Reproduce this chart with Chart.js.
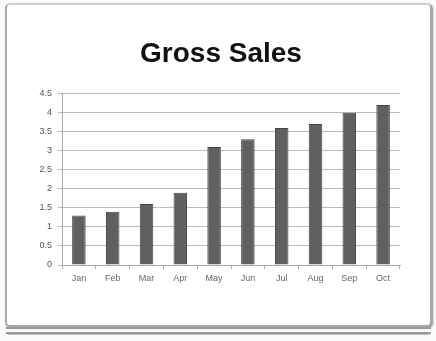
<!DOCTYPE html>
<html><head><meta charset="utf-8">
<script src="https://cdn.jsdelivr.net/npm/chart.js@4"></script>
<style>
html,body{margin:0;padding:0;background:#fff;}
#wrap{position:relative;width:436px;height:341px;overflow:hidden;background:#fafafa;}
#panel{position:absolute;left:5px;top:3px;width:423px;height:320px;background:#fff;border:2px solid #a8a8a8;border-top-color:#d0d0d0;border-radius:5px;box-shadow:1px 1px 2px #888;}
#base1{position:absolute;left:6px;top:327px;width:425px;height:3px;border-top:2px solid #999;border-bottom:2px solid #999;}
#base2{position:absolute;left:8px;top:334px;width:421px;height:0;border-top:1px solid #bbb;}
canvas{position:absolute;left:0;top:0;}
</style></head>
<body><div id="wrap"><div id="panel"></div><div id="base1"></div><div id="base2"></div>
<canvas id="c" width="436" height="341"></canvas></div>
<script>
const categories = ["Jan","Feb","Mar","Apr","May","Jun","Jul","Aug","Sep","Oct"];
const sales = [1.3,1.4,1.6,1.9,3.1,3.3,3.6,3.7,4.0,4.2];
const yTicks = [0,0.5,1,1.5,2,2.5,3,3.5,4,4.5];

const shiftTitle = { id: 'shiftTitle', afterLayout(chart) {
  const t = chart.titleBlock; if (t) { t.left += 11; t.right += 11; } } };

new Chart(document.getElementById('c'), {
  type: 'bar',
  data: { labels: categories, datasets: [{ label: 'Gross Sales', data: sales,
    backgroundColor: '#606060', borderColor: '#444444', borderWidth: 1,
    barPercentage: 0.4, categoryPercentage: 1.0 }] },
  plugins: [shiftTitle],
  options: {
    responsive: false, animation: false,
    layout: { padding: { left: 20, right: 36, top: 0, bottom: 46 } },
    plugins: {
      legend: { display: false }, tooltip: { enabled: false },
      title: { display: true, text: 'Gross Sales', color: '#111',
        font: { family: 'Liberation Sans, Arial, sans-serif', size: 28, weight: 'bold' },
        padding: { top: 37, bottom: 23 } }
    },
    scales: {
      x: { offset: true,
        grid: { offset: true, drawOnChartArea: false, drawTicks: true, tickLength: 4, color: '#aaa' },
        border: { color: '#aaa' },
        ticks: { color: '#666', font: { family: 'Liberation Sans, Arial, sans-serif', size: 9 }, padding: 4 },
        afterFit: s => { s.height = 30; } },
      y: { min: 0, max: 4.5,
        afterBuildTicks: s => { s.ticks = yTicks.map(v => ({ value: v })); },
        grid: { color: '#bbbbbb', tickLength: 4, lineWidth: 1 },
        border: { color: '#aaa' },
        ticks: { color: '#555', font: { family: 'Liberation Sans, Arial, sans-serif', size: 9 }, padding: 6,
          callback: v => String(v) },
        afterFit: s => { s.width = 42; } }
    }
  }
});
</script></body></html>
